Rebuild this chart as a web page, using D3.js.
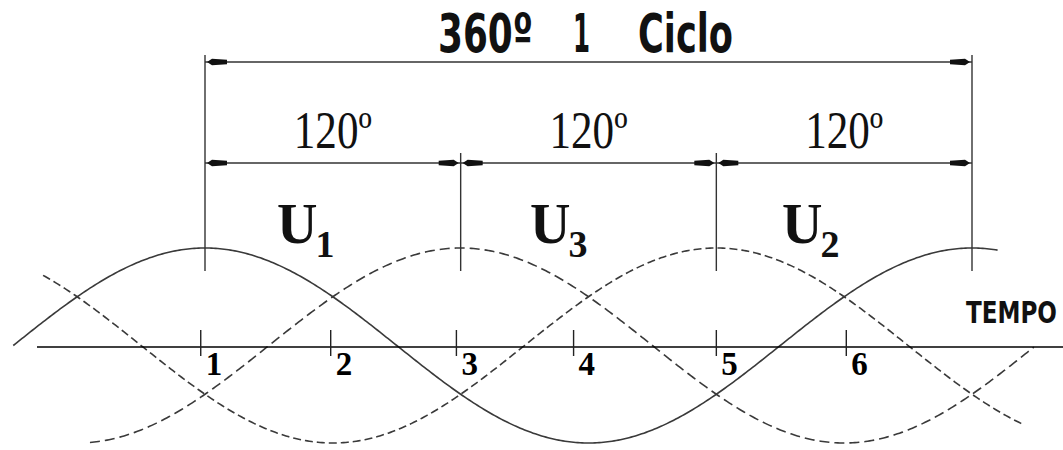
<!DOCTYPE html>
<html>
<head>
<meta charset="utf-8">
<script src="https://cdn.jsdelivr.net/npm/d3@7"></script>
<style>
  body { margin: 0; background: #fff; }
</style>
</head>
<body>
<svg width="1063" height="450"></svg>
<script>
// three phase waves: phase of the peak (deg), drawn range (deg)
var waveNames = ["U1", "U3", "U2"];
var wavePhase = [0, 120, 240];
var waveStart = [-90, -54, -76];
var waveEnd = [372, 389, 384];
var waveDash = [null, "10,5", "8,4"];

// numbered ticks on the time axis (deg)
var tickPos = [-2, 59, 118, 173, 240, 301];
var tickLabels = ["1", "2", "3", "4", "5", "6"];

// dimension marks
var dimMarks = [0, 120, 240, 360];
var dimLabels = ["120º", "120º", "120º"];
var cycleLabel = ["360º", "1", "Ciclo"];
var subLabels = ["1", "3", "2"];
var axisLabel = "TEMPO";

var svg = d3.select("svg"),
    width = +svg.attr("width"),
    height = +svg.attr("height");

var x = d3.scaleLinear().domain([0, 360]).range([205, 972]);
var y = d3.scaleLinear().domain([-1, 1]).range([443, 248]);
var y0 = y(0) + 1.5;

var line = d3.line()
    .x(function(d) { return x(d[0]); })
    .y(function(d) { return y(d[1]); });

// curves
waveNames.forEach(function(name, i) {
    var pts = d3.range(waveStart[i], waveEnd[i] + 0.5, 1).map(function(a) {
        return [a, Math.cos((a - wavePhase[i]) * Math.PI / 180)];
    });
    svg.append("path")
        .attr("d", line(pts))
        .attr("fill", "none")
        .attr("stroke", "#3a3a3a")
        .attr("stroke-width", 1.6)
        .attr("stroke-dasharray", waveDash[i]);
});

// time axis
svg.append("line")
    .attr("x1", 37).attr("x2", width)
    .attr("y1", y0).attr("y2", y0)
    .attr("stroke", "#000").attr("stroke-width", 1.6);

// squeeze a text to a given width with a real transform
function fitText(sel, x0, yb, w) {
    var nat = sel.node().getComputedTextLength();
    sel.attr("transform", "translate(" + x0 + "," + yb + ") scale(" + (w / nat) + ",1)");
}

var tempo = svg.append("text")
    .attr("font-family", "Liberation Sans Narrow, DejaVu Sans Condensed, Liberation Sans")
    .attr("font-weight", "bold")
    .attr("font-size", 31)
    .attr("fill", "#111")
    .text(axisLabel);
fitText(tempo, 966, 323, 91);

var ticks = svg.selectAll(".tick")
    .data(tickPos)
    .enter().append("g")
    .attr("class", "tick")
    .attr("transform", function(d) { return "translate(" + x(d) + ",0)"; });

ticks.append("line")
    .attr("y1", y0 - 17).attr("y2", y0 + 9)
    .attr("stroke", "#222").attr("stroke-width", 1.4);

ticks.append("text")
    .attr("x", 5).attr("y", 375)
    .attr("font-family", "Liberation Serif, serif")
    .attr("font-weight", "bold")
    .attr("font-size", 33)
    .attr("fill", "#000")
    .text(function(d, i) { return tickLabels[i]; });

// extension lines
svg.selectAll(".ext")
    .data(dimMarks)
    .enter().append("line")
    .attr("class", "ext")
    .attr("x1", function(d) { return x(d); })
    .attr("x2", function(d) { return x(d); })
    .attr("y1", function(d) { return (d === 0 || d === 360) ? 55 : 153; })
    .attr("y2", 271)
    .attr("stroke", "#333").attr("stroke-width", 1.4);

function arrow(xTip, yy, dir) {
    var len = 20, h = 3.2;
    svg.append("path")
        .attr("d", "M" + xTip + "," + yy +
            "L" + (xTip + dir * 5) + "," + (yy - h) +
            "L" + (xTip + dir * len) + "," + (yy - h * 0.7) +
            "L" + (xTip + dir * len) + "," + (yy + h * 0.7) +
            "L" + (xTip + dir * 5) + "," + (yy + h) + "Z")
        .attr("fill", "#111");
}

function dimLine(a, b, yy) {
    svg.append("line")
        .attr("x1", x(a)).attr("x2", x(b))
        .attr("y1", yy).attr("y2", yy)
        .attr("stroke", "#333").attr("stroke-width", 1.4);
    arrow(x(a) + 2, yy, 1);
    arrow(x(b) - 2, yy, -1);
}

// full cycle dimension
dimLine(dimMarks[0], dimMarks[3], 62);

var cycleX = [438, 573, 638];
var cycleW = [95, 17, 95];
cycleLabel.forEach(function(t, i) {
    svg.append("text")
        .attr("x", cycleX[i]).attr("y", 52)
        .attr("font-family", "Liberation Sans Narrow, DejaVu Sans Condensed, Liberation Sans")
        .attr("font-weight", "bold")
        .attr("font-size", 54)
        .attr("textLength", cycleW[i])
        .attr("lengthAdjust", "spacingAndGlyphs")
        .attr("fill", "#111")
        .text(t);
});

// 120 degree segments
dimLabels.forEach(function(t, i) {
    var a = dimMarks[i], b = dimMarks[i + 1];
    dimLine(a, b, 163);
    svg.append("text")
        .attr("x", (x(a) + x(b)) / 2 - 39).attr("y", 148)
        .attr("font-family", "Liberation Serif, serif")
        .attr("font-size", 52)
        .attr("textLength", 78)
        .attr("lengthAdjust", "spacingAndGlyphs")
        .attr("fill", "#111")
        .text(t);
});

// phase labels, U with subscript number
var uX = [277, 530, 782];
subLabels.forEach(function(s, i) {
    var t = svg.append("text")
        .attr("x", uX[i]).attr("y", 243)
        .attr("font-family", "Liberation Serif, serif")
        .attr("font-weight", "bold")
        .attr("fill", "#111");
    t.append("tspan")
        .attr("font-size", 56)
        .text("U");
    t.append("tspan")
        .attr("dy", 14)
        .attr("dx", -2)
        .attr("font-size", 38)
        .text(s);
});
</script>
</body>
</html>
